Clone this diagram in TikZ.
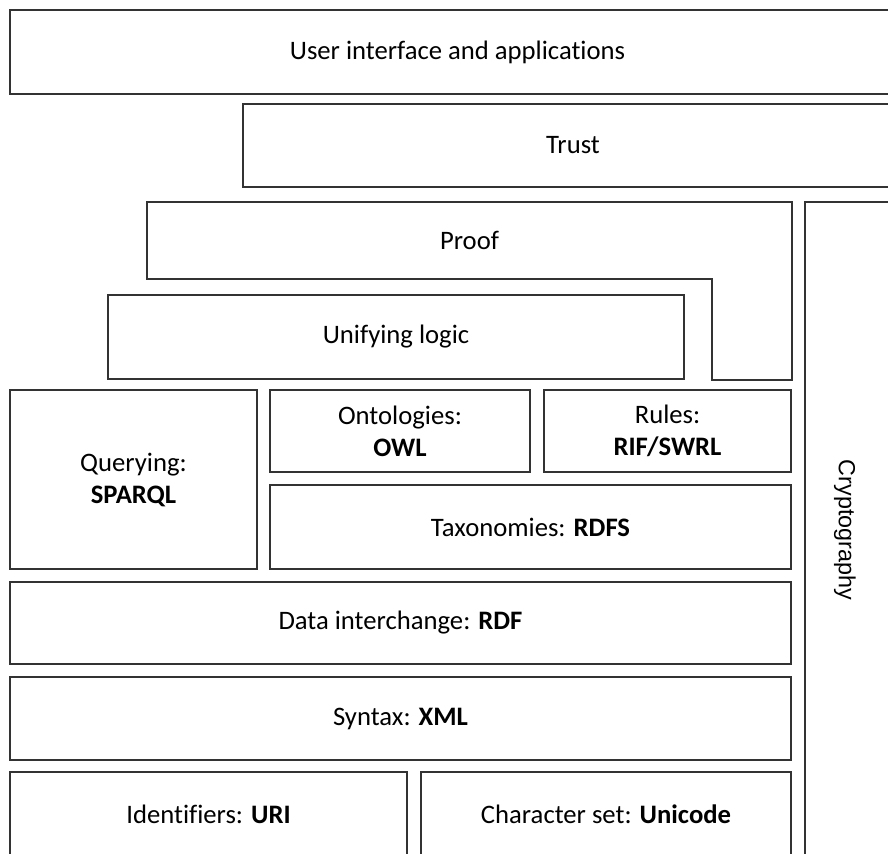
\documentclass[tikz,border=0pt]{standalone}
\usepackage{fontspec}
\setmainfont{Carlito}[Ligatures=NoCommon]
\newfontfamily\cryptofont{Liberation Sans}
\usetikzlibrary{positioning}

\tikzset{
  layer/.style={draw=black!80, line width=0.9pt, fill=white, align=center, font=\fontsize{20}{24}\selectfont, inner sep=0pt, outer sep=0pt},
  frame/.style={draw=black!80, line width=0.9pt}
}

\begin{document}
\begin{tikzpicture}[line cap=butt, line join=miter, x=0.75pt, y=-0.75pt]
    \useasboundingbox (0,0) rectangle (888,853);
    \clip (0,0) rectangle (888,853);
    % top layers
    \node[layer, minimum width=895*0.75pt, minimum height=84*0.75pt] (ui) at (457.5,52) {User interface and applications};
    \node[layer, minimum width=660*0.75pt, minimum height=83*0.75pt] (trust) at (573,145.5) {Trust};
    % proof has a notch for the crypto column
    \draw[frame] (147,202) -- (792,202) -- (792,380) -- (712,380) -- (712,279) -- (147,279) -- cycle;
    \node[font=\fontsize{20}{24}\selectfont] (proof) at (469.5,240.5) {Proof};
    \node[layer, minimum width=576*0.75pt, minimum height=84*0.75pt] (logic) at (396,337) {Unifying logic};
    % crypto column
    \node[layer, minimum width=100*0.75pt, minimum height=700*0.75pt] (crypto) at (855,552) {};
    \node[rotate=-90, font=\cryptofont\fontsize{17.5}{21}\selectfont] (cryptolbl) at (845,530) {Cryptography};
    % middle layers
    \node[layer, minimum width=247*0.75pt, minimum height=179*0.75pt] (query) at (133.5,479.5) {Querying:\\\textbf{SPARQL}};
    \node[layer, minimum width=260*0.75pt, minimum height=82*0.75pt] (onto) at (400,431) {Ontologies:\\\textbf{OWL}};
    \node[layer, minimum width=247*0.75pt, minimum height=82*0.75pt] (rules) at (667.5,431) {Rules:\\\textbf{RIF/SWRL}};
    \node[layer, minimum width=521*0.75pt, minimum height=84*0.75pt] (rdfs) at (530.5,527) {Taxonomies: \textbf{RDFS}};
    \node[layer, minimum width=781*0.75pt, minimum height=82*0.75pt] (rdf) at (400.5,623) {Data interchange: \textbf{RDF}};
    \node[layer, minimum width=781*0.75pt, minimum height=83*0.75pt] (xml) at (400.5,718.5) {Syntax: \textbf{XML}};
    % bottom layers
    \node[layer, minimum width=397*0.75pt, minimum height=84*0.75pt] (uri) at (208.5,814) {Identifiers: \textbf{URI}};
    \node[layer, minimum width=370*0.75pt, minimum height=84*0.75pt] (unicode) at (606,814) {Character set: \textbf{Unicode}};
\end{tikzpicture}
\end{document}
